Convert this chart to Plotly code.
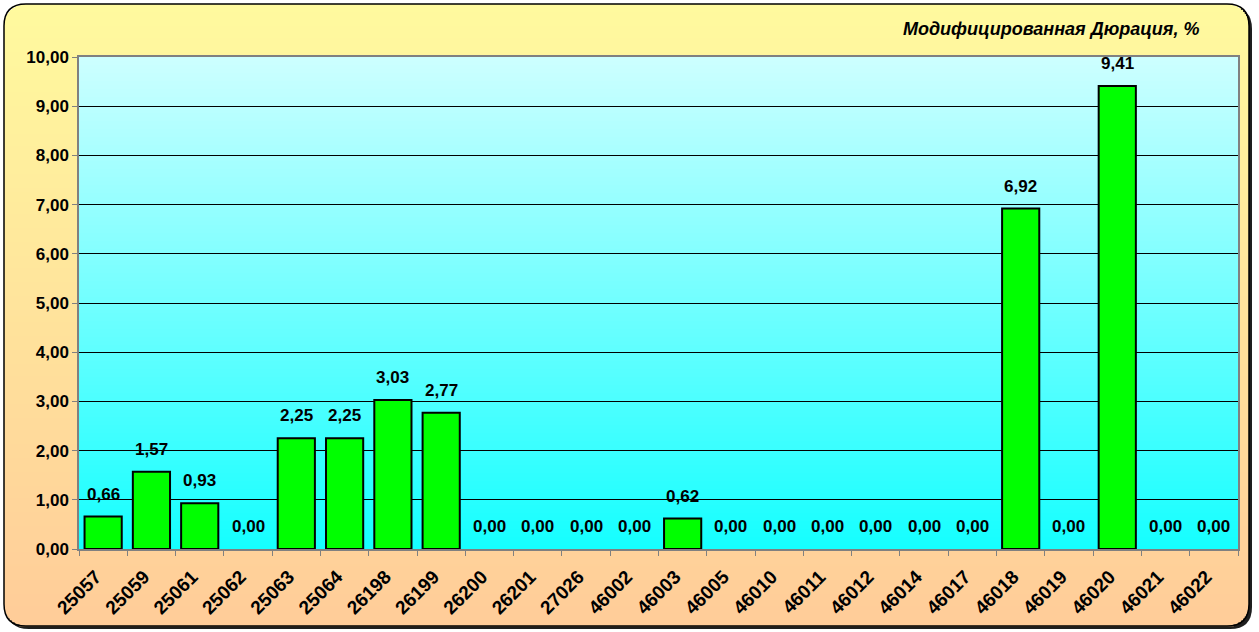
import plotly.graph_objects as go

# ---------------- data ----------------
categories = ["25057", "25059", "25061", "25062", "25063", "25064", "26198", "26199",
              "26200", "26201", "27026", "46002", "46003", "46005", "46010", "46011",
              "46012", "46014", "46017", "46018", "46019", "46020", "46021", "46022"]
values = [0.66, 1.57, 0.93, 0.00, 2.25, 2.25, 3.03, 2.77,
          0.00, 0.00, 0.00, 0.00, 0.62, 0.00, 0.00, 0.00,
          0.00, 0.00, 0.00, 6.92, 0.00, 9.41, 0.00, 0.00]
y_ticks = [0, 1, 2, 3, 4, 5, 6, 7, 8, 9, 10]
title_text = "Модифицированная Дюрация, %"

# ---------------- geometry (pixels) ----------------
W, H = 1259, 632
PL, PR, PT, PB = 79, 1238, 57, 549   # plot area in pixels


def xp(px):
    return (px - PL) / (PR - PL)


def yp(py):
    return (PB - py) / (PB - PT)


def lerp(c1, c2, t):
    return "rgb(%d,%d,%d)" % tuple(round(a + (b - a) * t) for a, b in zip(c1, c2))


def rounded_path(x0, y0, x1, y1, r):
    pts = [
        ("M", [(x0 + r, y0)]),
        ("L", [(x1 - r, y0)]),
        ("Q", [(x1, y0), (x1, y0 + r)]),
        ("L", [(x1, y1 - r)]),
        ("Q", [(x1, y1), (x1 - r, y1)]),
        ("L", [(x0 + r, y1)]),
        ("Q", [(x0, y1), (x0, y1 - r)]),
        ("L", [(x0, y0 + r)]),
        ("Q", [(x0, y0), (x0 + r, y0)]),
    ]
    s = ""
    for cmd, ps in pts:
        s += cmd + " " + " ".join("%.6f,%.6f" % (xp(a), yp(b)) for a, b in ps) + " "
    return s + "Z"


shapes = []
BX0, BY0, BX1, BY1, R = 4, 4, 1249, 626, 22

# shadow
shapes.append(dict(type="path", xref="paper", yref="paper", layer="below",
                   path=rounded_path(BX0 + 3, BY0 + 3, BX1 + 3, BY1 + 3, R),
                   fillcolor="rgb(30,30,30)", line=dict(width=0)))

# paper gradient stripes (clipped to rounded rect)
top_c, bot_c = (255, 250, 158), (255, 204, 153)
step = 2
y = BY0
while y < BY1:
    ya, yb = y, min(y + step, BY1)
    t = (ya - BY0) / (BY1 - BY0)
    inset = 0.0
    if ya < BY0 + R:
        d = R - (ya + (yb - ya) / 2 - BY0)
        inset = R - max(R * R - d * d, 0) ** 0.5
    elif yb > BY1 - R:
        d = R - (BY1 - (yb - (yb - ya) / 2))
        inset = R - max(R * R - d * d, 0) ** 0.5
    shapes.append(dict(type="rect", xref="paper", yref="paper", layer="below",
                       x0=xp(BX0 + inset), x1=xp(BX1 - inset),
                       y0=yp(yb + 0.5), y1=yp(ya),
                       fillcolor=lerp(top_c, bot_c, t), line=dict(width=0)))
    y += step

# border
shapes.append(dict(type="path", xref="paper", yref="paper", layer="below",
                   path=rounded_path(BX0, BY0, BX1, BY1, R),
                   fillcolor="rgba(0,0,0,0)", line=dict(color="black", width=1.5)))

# plot-area gradient stripes
ptop, pbot = (204, 255, 255), (20, 255, 255)
step = 4
y = PT
while y < PB:
    ya, yb = y, min(y + step, PB)
    t = (ya - PT) / (PB - PT)
    shapes.append(dict(type="rect", xref="paper", yref="paper", layer="below",
                       x0=0, x1=1, y0=yp(yb + 0.5), y1=yp(ya),
                       fillcolor=lerp(ptop, pbot, t), line=dict(width=0)))
    y += step

FONT = "Liberation Sans, Arial, sans-serif"

fig = go.Figure()
fig.add_trace(go.Bar(
    x=categories, y=values,
    marker=dict(color="#00FF00",
                line=dict(color="black", width=[2 if v > 0 else 0 for v in values])),
    hoverinfo="x+y",
))

annotations = []
for i, v in enumerate(values):
    annotations.append(dict(x=i, y=v, xref="x", yref="y",
                            text=f"{v:.2f}".replace(".", ","),
                            showarrow=False, yanchor="bottom", yshift=11,
                            font=dict(family=FONT, size=17, color="black", weight="bold")))
annotations.append(dict(x=xp(1201), y=yp(29), xref="paper", yref="paper",
                        text=title_text, showarrow=False, xanchor="right", yanchor="middle",
                        font=dict(family=FONT, size=18, color="black", weight="bold",
                                  style="italic")))

fig.update_layout(
    width=W, height=H,
    margin=dict(l=PL, r=W - PR, t=PT, b=H - PB, pad=0, autoexpand=False),
    paper_bgcolor="white",
    plot_bgcolor="rgba(0,0,0,0)",
    bargap=0.23,
    showlegend=False,
    separators=", ",
    shapes=shapes,
    annotations=annotations,
    font=dict(family=FONT, size=17, color="black"),
    xaxis=dict(type="category", range=[-0.5, len(categories) - 0.5],
               tickmode="array", tickvals=categories,
               ticktext=[c + "\u00a0\u00a0" for c in categories],
               tickangle=-45, tickson="boundaries", automargin=False,
               ticks="outside", ticklen=5, tickcolor="#808080",
               showline=True, linecolor="#808080", linewidth=1.5, mirror=True,
               showgrid=False, zeroline=False,
               tickfont=dict(family=FONT, size=19, color="black", weight="bold")),
    yaxis=dict(range=[0, 10], tickvals=y_ticks, tickformat=".2f", automargin=False,
               ticks="outside", ticklen=5, tickcolor="#808080",
               showline=True, linecolor="#808080", linewidth=1.5, mirror=True,
               showgrid=True, gridcolor="black", gridwidth=1.3, zeroline=False,
               tickfont=dict(family=FONT, size=17, color="black", weight="bold")),
)

fig.write_html("out.html", config={"displayModeBar": False},
               post_script="document.body.style.margin='0';document.body.style.padding='0';")
